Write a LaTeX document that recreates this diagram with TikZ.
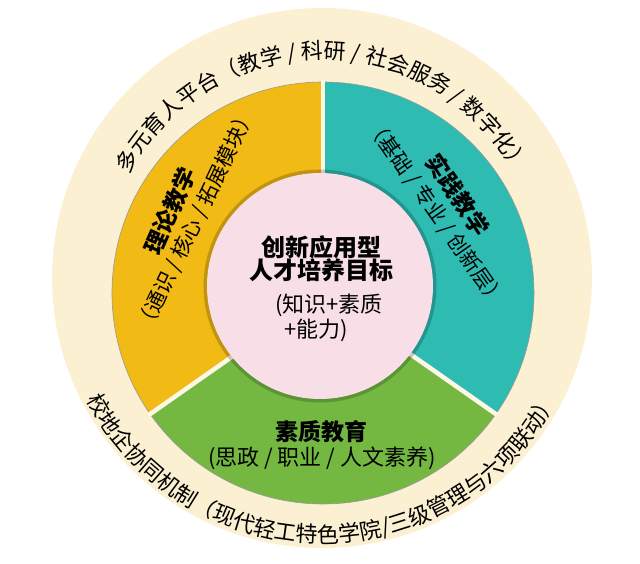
\documentclass[tikz,border=0pt]{standalone}
\usepackage{fontspec}
\newfontfamily\cjk{Noto Sans CJK SC}
\usepackage{tikz}
\usetikzlibrary{decorations.text}
\definecolor{creambg}{RGB}{252,240,211}
\definecolor{gapcol}{RGB}{253,247,230}
\definecolor{theoryseg}{RGB}{242,186,20}
\definecolor{practiceseg}{RGB}{45,187,178}
\definecolor{qualityseg}{RGB}{116,184,66}
\definecolor{goalpink}{RGB}{248,222,230}

\tikzset{
  segtitle/.style={font={\cjk\bfseries\fontsize{23}{26}\selectfont}, inner sep=0pt},
  segsub/.style={font={\cjk\fontsize{21}{24}\selectfont}, inner sep=0pt},
  goalbold/.style={font={\cjk\bfseries\fontsize{24}{26}\selectfont}, inner sep=0pt},
  goalnorm/.style={font={\cjk\fontsize{22}{24}\selectfont}, inner sep=0pt},
}

\begin{document}
\begin{tikzpicture}[x=1pt, y=1pt]
    \useasboundingbox (-320,-282) rectangle (320,282);

    % Outer platform disc
    \fill[creambg] (2,4) circle[radius=270];

    % Three segments of the ring
    \begin{scope}[shift={(3,-11)}]
      \fill[theoryseg] (0,0) -- (90:211)
        arc[start angle=90, end angle=215, radius=211] -- cycle;
      \fill[practiceseg] (0,0) -- (-35:211)
        arc[start angle=-35, end angle=90, radius=211] -- cycle;
      \fill[qualityseg] (0,0) -- (215:211)
        arc[start angle=215, end angle=325, radius=211] -- cycle;
      \draw[black!40, line width=0.6pt] (0,0) circle[radius=211];
      % gaps between the segments
      \foreach \a in {90, 215, 325} {
        \draw[gapcol, line width=4.5pt] (0,0) -- (\a:212.5);
      }
    \end{scope}

    % Goal in the middle
    \fill[black, opacity=0.2] (0,-4) circle[radius=116.5];
    \fill[goalpink] (0,-4) circle[radius=113];

    \node[goalbold] (goal1) at (2,35) {创新应用型};
    \node[goalbold] (goal2) at (2,12) {人才培养目标};
    \node[goalnorm] (goal3) at (9,-23) {(知识+素质};
    \node[goalnorm] (goal4) at (-4,-48) {+能力)};

    % Segment labels
    \node[segtitle, rotate=66] (theory) at (-150,71) {理论教学};
    \node[segsub, rotate=64.5] (theorysub) at (-124,62)
      {（通识 / 核心 / 拓展模块）};

    \node[segtitle, rotate=-56] (practice) at (138,87) {实践教学};
    \node[segsub, rotate=-55] (practicesub) at (116,69)
      {（基础 / 专业 / 创新层）};

    \node[segtitle] (quality) at (2,-150) {素质教育};
    \node[segsub, font={\cjk\fontsize{22}{24}\selectfont}] (qualitysub)
      at (2,-176) {(思政 / 职业 / 人文素养)};

    % Curved texts on the outer disc
    \path[shift={(2,4)}, decorate, decoration={text along path,
      text align=center,
      text={|\cjk\fontsize{22}{22}\selectfont|多元育人平台（教学 / 科研 / 社会服务 / 数字化）}}]
      (165:219) arc[start angle=165, end angle=15, radius=219];

    \path[shift={(2,4)}, decorate, decoration={text along path,
      text align=center,
      text={|\cjk\fontsize{22}{22}\selectfont|校地企协同机制（现代轻工特色学院/三级管理与六项联动）}}]
      (195:265) arc[start angle=195, end angle=345, radius=265];

  \end{tikzpicture}
\end{document}
